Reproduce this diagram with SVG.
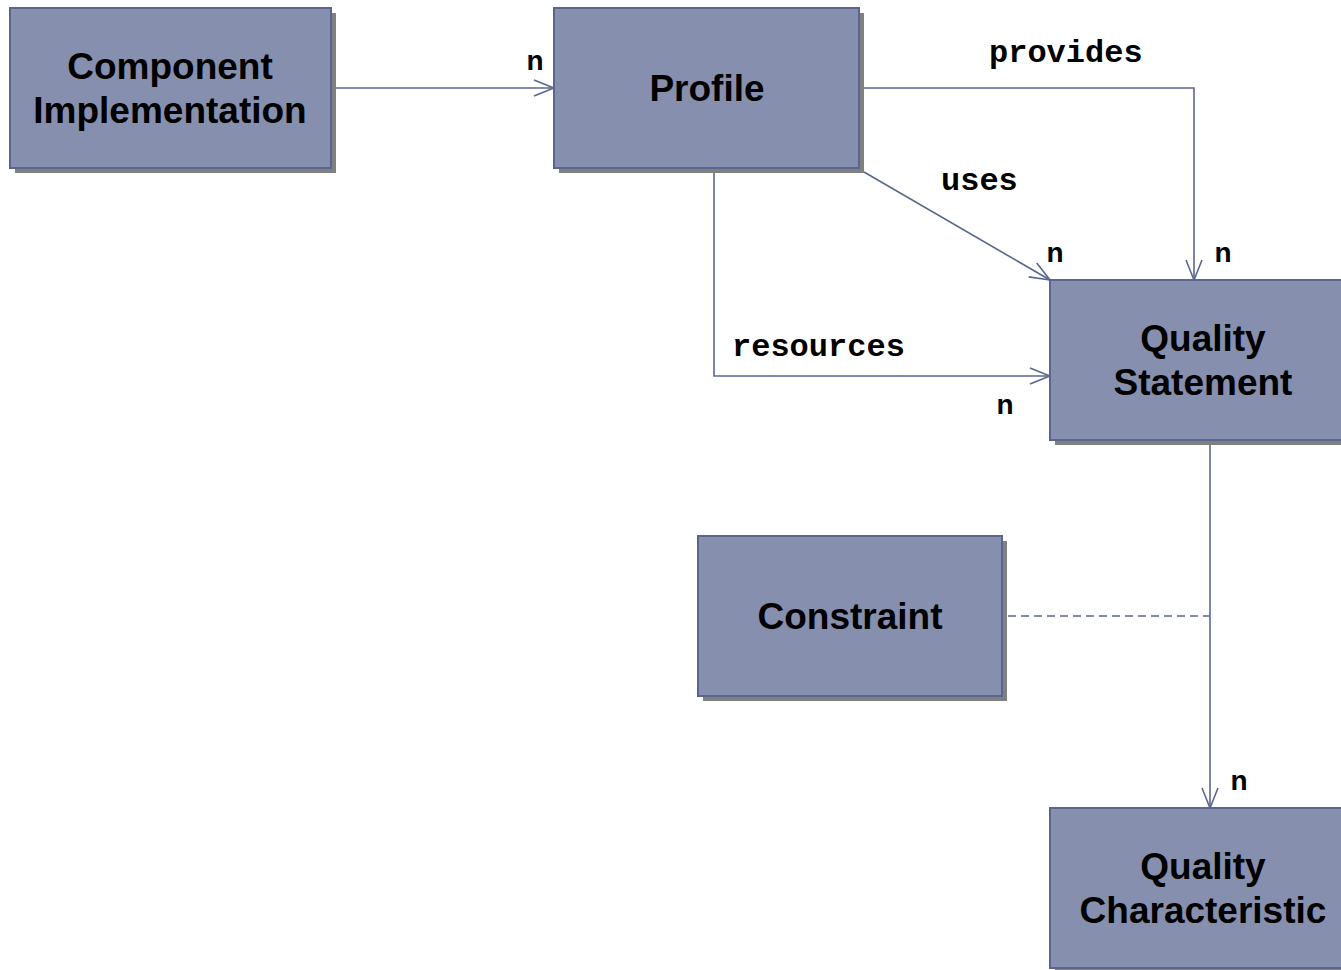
<svg xmlns="http://www.w3.org/2000/svg" width="1341" height="970" viewBox="0 0 1341 970">
<defs>
<style>
.box{fill:#8690AE;stroke:#5A6690;stroke-width:2}
.shadow{fill:#808080}
.lbl{font-family:"Liberation Sans",Arial,sans-serif;font-weight:bold;font-size:37px;fill:#000;text-anchor:middle}
.n{font-family:"Liberation Sans",Arial,sans-serif;font-weight:bold;font-size:28px;fill:#000;text-anchor:middle}
.role{font-family:"Liberation Mono","Courier New",monospace;font-weight:bold;font-size:32px;fill:#000}
.conn{fill:none;stroke:#5A6690;stroke-width:1.6}
</style>
<marker id="arr" markerWidth="24" markerHeight="24" refX="22" refY="12" orient="auto" markerUnits="userSpaceOnUse">
<path d="M2,4 L22,12 L2,20" fill="none" stroke="#5A6690" stroke-width="1.6"/>
</marker>
</defs>
<rect width="1341" height="970" fill="#fff"/>
<g id="connectors">
<path class="conn" d="M331,88 L554,88" marker-end="url(#arr)"/>
<path class="conn" d="M859,88 L1194,88 L1194,280" marker-end="url(#arr)"/>
<path class="conn" d="M864,172 L1050,280" marker-end="url(#arr)"/>
<path class="conn" d="M714,168 L714,376 L1050,376" marker-end="url(#arr)"/>
<path class="conn" d="M1210,440 L1210,808" marker-end="url(#arr)"/>
<path class="conn" d="M1008,616 L1210,616" stroke-dasharray="8,5"/>
<text class="role" x="989" y="62">provides</text>
<text class="role" x="941" y="190">uses</text>
<text class="role" x="732" y="356">resources</text>
<text class="n" x="535" y="70">n</text>
<text class="n" x="1055" y="262">n</text>
<text class="n" x="1223" y="262">n</text>
<text class="n" x="1005" y="414">n</text>
<text class="n" x="1239" y="790">n</text>
</g>
<g id="component-implementation">
<rect class="shadow" x="15" y="13" width="321" height="160"/>
<rect class="box" x="10" y="8" width="321" height="160"/>
<text class="lbl" x="170" y="79">Component</text>
<text class="lbl" x="170" y="123">Implementation</text>
</g>
<g id="profile">
<rect class="shadow" x="559" y="13" width="305" height="160"/>
<rect class="box" x="554" y="8" width="305" height="160"/>
<text class="lbl" x="707" y="101">Profile</text>
</g>
<g id="quality-statement">
<rect class="shadow" x="1055" y="285" width="300" height="160"/>
<rect class="box" x="1050" y="280" width="300" height="160"/>
<text class="lbl" x="1203" y="351">Quality</text>
<text class="lbl" x="1203" y="395">Statement</text>
</g>
<g id="constraint">
<rect class="shadow" x="703" y="541" width="304" height="160"/>
<rect class="box" x="698" y="536" width="304" height="160"/>
<text class="lbl" x="850" y="629">Constraint</text>
</g>
<g id="quality-characteristic">
<rect class="shadow" x="1055" y="813" width="300" height="160"/>
<rect class="box" x="1050" y="808" width="300" height="160"/>
<text class="lbl" x="1203" y="879">Quality</text>
<text class="lbl" x="1203" y="923">Characteristic</text>
</g>
</svg>
